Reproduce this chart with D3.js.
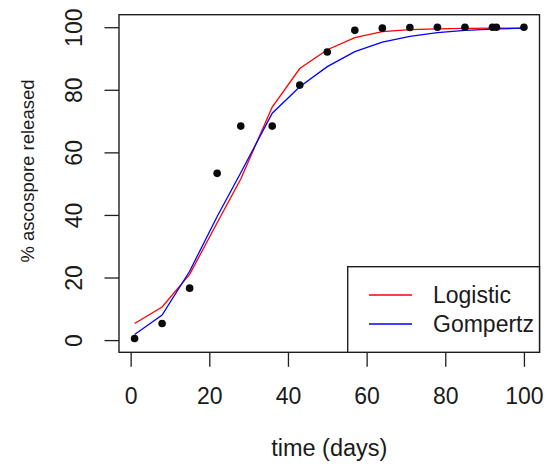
<!DOCTYPE html>
<html>
<head>
<meta charset="utf-8">
<script src="https://cdn.jsdelivr.net/npm/d3@7"></script>
<style>
  html, body { margin: 0; padding: 0; background: #fff; }
  svg { display: block; }
  text { font-family: "Liberation Sans", Arial, Helvetica, sans-serif; fill: #1a1a1a; }
</style>
</head>
<body>
<svg id="chart" width="547" height="467"></svg>
<script>
// Observation days and cumulative percentage of ascospores released
const days      = [1, 8, 15, 22, 28, 36, 43, 50, 57, 64, 71, 78, 85, 92, 93, 100];
const released  = [0.5, 5.3, 16.6, 53.3, 68.4, 68.4, 81.5, 92.1, 99.0, 99.7, 99.9, 100, 100, 100, 100, 100];

// Fitted values of the two growth models at the same days
const logisticFit = [5.3, 10.6, 21.0, 37.5, 51.5, 74.5, 86.8, 92.8, 96.7, 98.6, 99.2, 99.5, 99.6, 99.7, 99.7, 99.7];
const gompertzFit = [1.8, 8.0, 22.0, 39.5, 53.5, 72.5, 81.0, 87.4, 92.2, 95.2, 97.1, 98.3, 99.0, 99.4, 99.45, 99.7];

const xTicks = [0, 20, 40, 60, 80, 100];
const yTicks = [0, 20, 40, 60, 80, 100];

const models = [
  { name: "Logistic", values: logisticFit, color: "#ff0000" },
  { name: "Gompertz", values: gompertzFit, color: "#0000ff" }
];

const svg = d3.select("#chart");

// Plot region
const box = { left: 119, right: 539.5, top: 14.7, bottom: 352.3 };

const x = d3.scaleLinear().domain([-2.96, 103.96]).range([box.left, box.right]);
const y = d3.scaleLinear().domain([-3.9, 104]).range([box.bottom, box.top]);

const ink = "#1e1e1e";
const tickLen = 14.5;

// x axis ticks and labels
const xAxis = svg.append("g").attr("transform", `translate(0,${box.bottom})`)
  .call(d3.axisBottom(x).tickValues(xTicks).tickSize(tickLen).tickPadding(0).tickFormat(d3.format("d")));
xAxis.select(".domain").remove();
xAxis.selectAll(".tick line").attr("stroke", ink).attr("stroke-width", 1.3);
xAxis.selectAll(".tick text")
  .attr("y", 51.7).attr("dy", null)
  .style("font-size", "23px").attr("fill", ink);

// y axis ticks and labels (labels run parallel to the axis)
const yAxis = svg.append("g").attr("transform", `translate(${box.left},0)`)
  .call(d3.axisLeft(y).tickValues(yTicks).tickSize(tickLen).tickPadding(0).tickFormat(d3.format("d")));
yAxis.select(".domain").remove();
yAxis.selectAll(".tick line").attr("stroke", ink).attr("stroke-width", 1.3);
yAxis.selectAll(".tick text")
  .attr("x", null).attr("dy", null)
  .attr("transform", "translate(-37,0) rotate(-90)")
  .attr("text-anchor", "middle")
  .style("font-size", "23px").attr("fill", ink);

// Plot frame
svg.append("rect")
  .attr("x", box.left).attr("y", box.top)
  .attr("width", box.right - box.left).attr("height", box.bottom - box.top)
  .attr("fill", "none").attr("stroke", ink).attr("stroke-width", 1.4);

// Fitted curves
const line = d3.line().x((d, i) => x(days[i])).y(d => y(d));
models.forEach(m => {
  svg.append("path")
    .datum(m.values)
    .attr("d", line)
    .attr("fill", "none")
    .attr("stroke", m.color)
    .attr("stroke-width", 1.3);
});

// Observed points
svg.append("g").selectAll("circle")
  .data(days)
  .join("circle")
  .attr("cx", d => x(d))
  .attr("cy", (d, i) => y(released[i]))
  .attr("r", 3.8)
  .attr("fill", "#0a0a0a");

// Axis titles
svg.append("text")
  .attr("x", (box.left + box.right) / 2).attr("y", 456)
  .attr("text-anchor", "middle")
  .style("font-size", "23.5px")
  .text("time (days)");

svg.append("text")
  .attr("transform", "translate(34,171) rotate(-90)")
  .attr("text-anchor", "middle")
  .style("font-size", "18.5px")
  .text("% ascospore released");

// Legend in the bottom-right corner
const lg = svg.append("g");
lg.append("rect")
  .attr("x", 347.7).attr("y", 266.7)
  .attr("width", box.right - 347.7).attr("height", box.bottom - 266.7)
  .attr("fill", "#fff").attr("stroke", ink).attr("stroke-width", 1.4);

models.forEach((m, i) => {
  const ly = 295 + i * 29;
  lg.append("line")
    .attr("x1", 369).attr("x2", 412)
    .attr("y1", ly).attr("y2", ly)
    .attr("stroke", m.color).attr("stroke-width", 1.3);
  lg.append("text")
    .attr("x", 433).attr("y", ly + 8.3)
    .style("font-size", "23px")
    .text(m.name);
});
</script>
</body>
</html>
